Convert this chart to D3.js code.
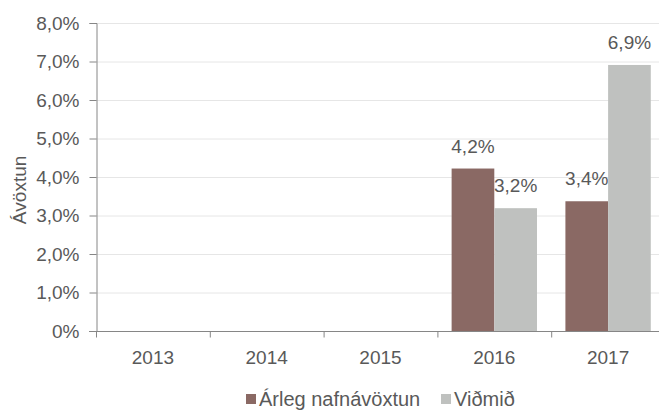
<!DOCTYPE html>
<html>
<head>
<meta charset="utf-8">
<script src="https://cdn.jsdelivr.net/npm/d3@7"></script>
<style>
    body { margin: 0; background: #fff; }
    svg text { font-family: "Liberation Sans", Arial, sans-serif; fill: #595959; }
</style>
</head>
<body>
<script>
// chart data
var years = ["2013", "2014", "2015", "2016", "2017"];
var seriesNames = ["Árleg nafnávöxtun", "Viðmið"];
var nafnavoxtun = [null, null, null, 4.22, 3.37];
var vidmid = [null, null, null, 3.19, 6.91];
var yTicks = [0, 1, 2, 3, 4, 5, 6, 7, 8];

var colors = ["#8a6964", "#bfc1bf"];

var width = 659, height = 410;
var margin = {top: 23, right: -6, bottom: 79, left: 96};

var svg = d3.select("body").append("svg")
    .attr("width", width)
    .attr("height", height);

var x = d3.scaleBand()
    .domain(years)
    .range([margin.left, width - margin.right]);

var xInner = d3.scaleBand()
    .domain([0, 1])
    .range([0, x.bandwidth()])
    .paddingOuter(0.333);

var y = d3.scaleLinear()
    .domain([0, 8])
    .range([height - margin.bottom, margin.top]);

var fmt = function(v) {
    if (v === 0) return "0%";
    return d3.format(".1f")(v).replace(".", ",") + "%";
};

// gridlines
svg.append("g")
    .selectAll("line")
    .data(yTicks.filter(function(d) { return d > 0; }))
    .enter().append("line")
    .attr("x1", margin.left)
    .attr("x2", width)
    .attr("y1", function(d) { return y(d) + 0.5; })
    .attr("y2", function(d) { return y(d) + 0.5; })
    .attr("stroke", "#e6e6e6")
    .attr("stroke-width", 1);

// y axis
var yAxis = svg.append("g")
    .attr("transform", "translate(" + (margin.left + 0.5) + ",0)")
    .call(d3.axisLeft(y).tickValues(yTicks).tickFormat(fmt)
        .tickSizeOuter(0).tickSize(7).tickPadding(10));
yAxis.selectAll("text").attr("font-size", 19).style("font-family", null);
yAxis.selectAll("line, path").attr("stroke", "#868686");

// x axis with ticks at band edges
var xAxis = svg.append("g")
    .attr("transform", "translate(0," + (y(0) + 0.5) + ")");
xAxis.append("line")
    .attr("x1", margin.left - 7)
    .attr("x2", width)
    .attr("stroke", "#868686");
xAxis.selectAll(".tk")
    .data(years)
    .enter().append("line")
    .attr("class", "tk")
    .attr("x1", function(d) { return x(d) + 0.5; })
    .attr("x2", function(d) { return x(d) + 0.5; })
    .attr("y1", 0)
    .attr("y2", 6)
    .attr("stroke", "#868686");
xAxis.selectAll("text")
    .data(years)
    .enter().append("text")
    .attr("x", function(d) { return x(d) + x.bandwidth() / 2; })
    .attr("y", 32)
    .attr("text-anchor", "middle")
    .attr("font-size", 19)
    .text(function(d) { return d; });

// bars
var series = [nafnavoxtun, vidmid];
series.forEach(function(vals, s) {
    var g = svg.append("g");
    var pts = years.map(function(yr, i) { return {year: yr, v: vals[i]}; })
        .filter(function(d) { return d.v != null; });
    g.selectAll("rect")
        .data(pts)
        .enter().append("rect")
        .attr("x", function(d) { return x(d.year) + xInner(s); })
        .attr("width", xInner.bandwidth())
        .attr("y", function(d) { return y(d.v); })
        .attr("height", function(d) { return y(0) - y(d.v); })
        .attr("fill", colors[s]);
    g.selectAll("text")
        .data(pts)
        .enter().append("text")
        .attr("x", function(d) { return x(d.year) + xInner(s) + xInner.bandwidth() / 2; })
        .attr("y", function(d) { return y(d.v) - 16; })
        .attr("text-anchor", "middle")
        .attr("font-size", 19)
        .text(function(d) { return fmt(d.v); });
});

// y axis title
svg.append("text")
    .attr("transform", "translate(26,190) rotate(-90)")
    .attr("text-anchor", "middle")
    .attr("font-size", 19)
    .text("Ávöxtun");

// legend
var legendX = [246, 441];
var legend = svg.append("g");
seriesNames.forEach(function(name, i) {
    legend.append("rect")
        .attr("x", legendX[i])
        .attr("y", 394)
        .attr("width", 10)
        .attr("height", 10)
        .attr("fill", colors[i]);
    legend.append("text")
        .attr("x", legendX[i] + 13)
        .attr("y", 406)
        .attr("font-size", 20)
        .text(name);
});
</script>
</body>
</html>
